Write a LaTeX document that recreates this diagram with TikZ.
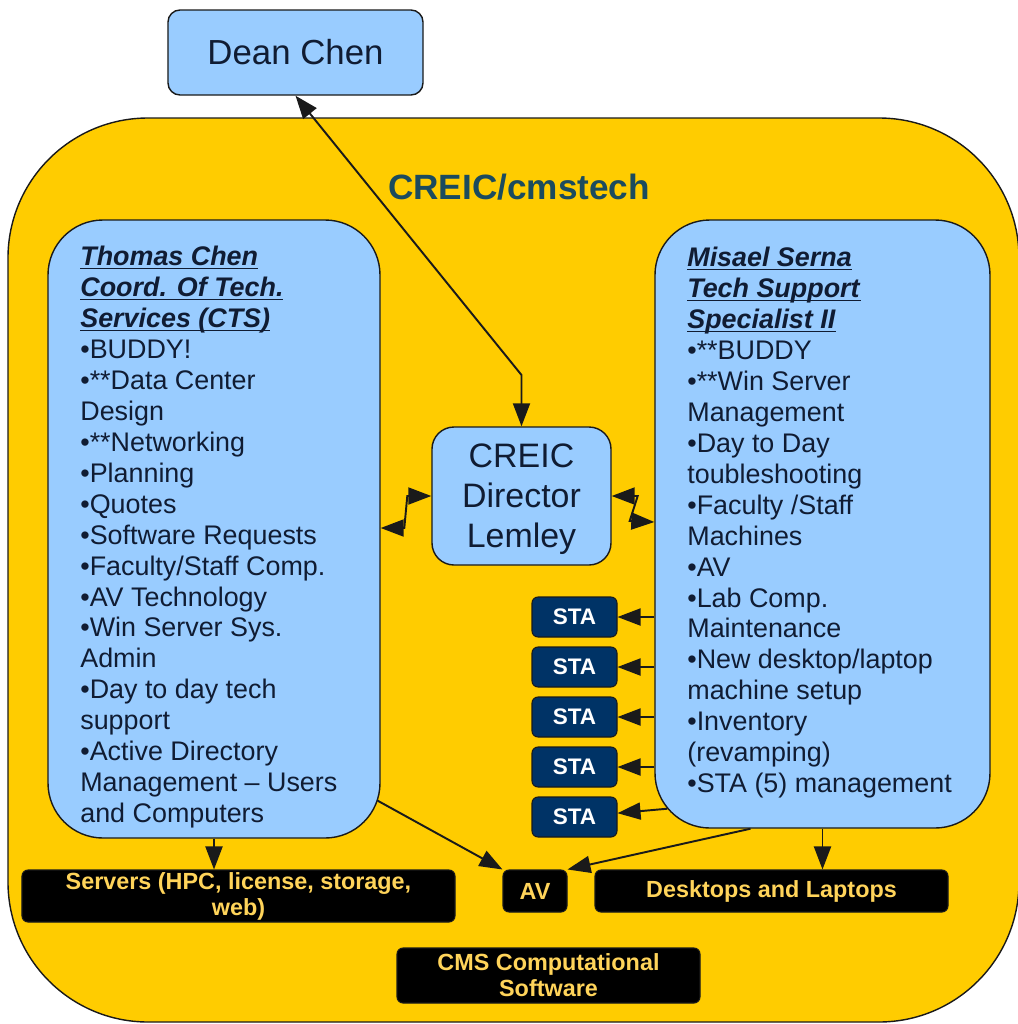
\documentclass[tikz,border=0pt]{standalone}
\usepackage{fontspec}
\setmainfont{Liberation Sans}
\usetikzlibrary{arrows.meta, calc}

\definecolor{boxBlue}{HTML}{99CCFF}
\definecolor{orgYellow}{HTML}{FFCC00}
\definecolor{staNavy}{HTML}{003366}
\definecolor{goldText}{HTML}{FFD45A}
\definecolor{ink}{HTML}{101C33}
\definecolor{titleTeal}{HTML}{1B4B5E}
\definecolor{edge}{HTML}{1A1A1A}

\newcommand\listfont{\fontsize{15.3}{17.6}\selectfont}
% sublinhado rente à linha de base (como no original)
\newcommand\cabec[1]{\underline{\smash{\textbf{\textit{#1}}}}\vphantom{\textbf{\textit{#1}}}}

\begin{document}
\begin{tikzpicture}[x=0.2mm, y=-0.2mm, >={Triangle[length=4.6mm, width=3.4mm]},
  pessoa/.style={draw=edge, fill=boxBlue, line width=0.8pt, text=ink, inner sep=0pt},
  sta/.style={draw=edge, fill=staNavy, rounded corners=1.2mm, line width=0.6pt,
    minimum width=17mm, minimum height=8mm, inner sep=0pt, text=white,
    font=\fontsize{12.8}{14}\selectfont\bfseries},
  recurso/.style={draw=edge, fill=black, rounded corners=1.2mm, line width=0.6pt,
    inner sep=0pt, align=center, text=goldText,
    font=\fontsize{13.3}{14.8}\selectfont\bfseries},
  seta/.style={line width=1.1pt, draw=edge}]

  % --- MOLDURA ---
  \useasboundingbox (0,0) rectangle (1018,1024);
  % Fundo amarelo do grupo (sai um pouco pela direita)
  \draw[draw=edge, fill=orgYellow, line width=0.8pt, rounded corners=28mm]
    (8,118) rectangle (1019,1022);
  \node[font=\fontsize{20}{24}\selectfont\bfseries, text=titleTeal] (titulo) at (519,187) {CREIC/cmstech};

  % --- PESSOAS ---
  \node[pessoa, rounded corners=2.4mm, minimum width=51mm, minimum height=17mm,
    font=\fontsize{19.8}{24}\selectfont] (dean) at (295.5,52.5) {Dean Chen};

  \node[pessoa, rounded corners=4.4mm, minimum width=35.8mm, minimum height=27.6mm,
    align=center, text depth=0pt, font=\fontsize{19.3}{22.7}\selectfont] (director) at (521.5,496)
    {CREIC\\Director\\Lemley};

  % Caixas grandes (Thomas e Misael)
  \node[pessoa, rounded corners=11mm, minimum width=66.4mm, minimum height=123.6mm] (cts) at (214,529) {};
  \node[pessoa, rounded corners=11mm, minimum width=67mm, minimum height=121.6mm] (serna) at (822.5,524) {};

  % Texto das caixas grandes
  \node[anchor=north west, align=left, inner sep=0pt, text=ink, font=\listfont] (ctsText) at (80,246)
    {\cabec{Thomas Chen}\\ \cabec{Coord. Of Tech.}\\ \cabec{Services (CTS)}\\
     •BUDDY!\\ •**Data Center\\ Design\\ •**Networking\\ •Planning\\ •Quotes\\
     •Software Requests\\ •Faculty/Staff Comp.\\ •AV Technology\\ •Win Server Sys.\\
     Admin\\ •Day to day tech\\ support\\ •Active Directory\\ Management – Users\\
     and Computers};
  \node[anchor=north west, align=left, inner sep=0pt, text=ink, font=\listfont] (sernaText) at (687,247)
    {\cabec{Misael Serna}\\ \cabec{Tech Support}\\ \cabec{Specialist II}\\
     •**BUDDY\\ •**Win Server\\ Management\\ •Day to Day\\ toubleshooting\\
     •Faculty /Staff\\ Machines\\ •AV\\ •Lab Comp.\\ Maintenance\\
     •New desktop/laptop\\ machine setup\\ •Inventory\\ (revamping)\\
     •STA (5) management};

  % --- STAs ---
  \foreach \i in {1,...,5} {
    \node[sta] (sta\i) at (574.5, {567+50*\i}) {STA};
  }

  % --- RECURSOS (caixas pretas) ---
  \node[recurso, minimum width=86.6mm, minimum height=10.4mm] (servers) at (238.5,896)
    {Servers (HPC, license, storage,\\web)};
  \node[recurso, minimum width=12.8mm, minimum height=8.4mm] (av) at (535,891) {AV};
  \node[recurso, minimum width=70.6mm, minimum height=8.4mm] (desk) at (771.5,891) {Desktops and Laptops};
  \node[recurso, minimum width=60.6mm, minimum height=11mm] (cms) at (548.5,975.5)
    {CMS Computational\\Software};

  % --- CONEXÕES ---
  % Dean <-> diretor (com dobra)
  \draw[seta, <->] (dean.south) -- (director.north |- 0,375) -- (director.north);

  % Relâmpagos entre diretor e as caixas laterais
  \draw[seta, <->] (director.west) -- ++(-24,0) -- ++(-3,32) -- (cts.east |- 0,528);
  \draw[seta, <->] (director.east) -- ++(26,0) -- ++(-8,25) -- (serna.west |- 0,522);

  % Misael -> STAs
  \foreach \i in {1,...,4} {
    \draw[seta, ->] (serna.west |- sta\i) -- (sta\i);
  }
  % A última sai da curva do canto
  \draw[seta, ->] ($(serna.south west)+(13,-20)$) -- (sta5);

  % Para as caixas pretas
  \draw[seta, ->] (cts.south) -- (cts.south |- servers.north);
  \draw[seta, ->] ($(cts.south east)+(-3,-38)$) -- (av.north west);
  \draw[seta, ->] ($(serna.south)+(-72,0)$) -- (av.north east);
  \draw[seta, ->] (serna.south) -- (serna.south |- desk.north);

\end{tikzpicture}
\end{document}
